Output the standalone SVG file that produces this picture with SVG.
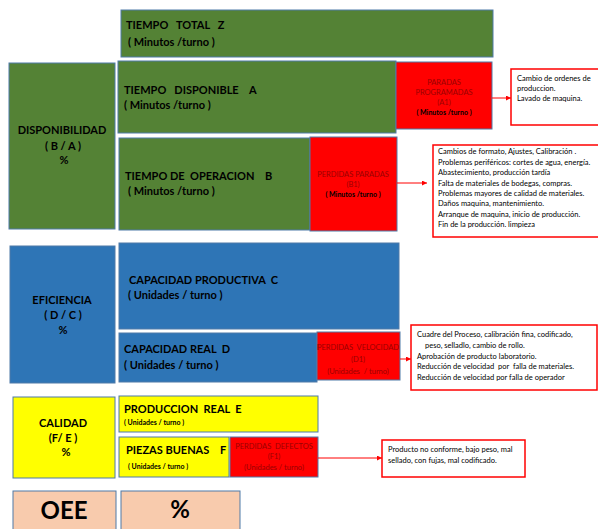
<svg xmlns="http://www.w3.org/2000/svg" width="598" height="529" viewBox="0 0 598 529">
  <defs>
    <marker id="arrow" viewBox="0 0 6 6" refX="6" refY="3" markerWidth="5" markerHeight="5" orient="auto" markerUnits="userSpaceOnUse">
      <path d="M0,0 L6,3 L0,6 z" fill="#FF0000"/>
    </marker>
    <style>
      text { font-family: Lato, "Open Sans", "Liberation Sans", sans-serif; fill: #000; }
      .g { fill: #548235; stroke: #4F7AA8; stroke-width: 1; }
      .b { fill: #2E75B6; stroke: #4F7AA8; stroke-width: 1; }
      .y { fill: #FFFF00; stroke: #4F7AA8; stroke-width: 1; }
      .r { fill: #FF0000; stroke: #4F7AA8; stroke-width: 1; }
      .p { fill: #F8CBAD; stroke: #4F7AA8; stroke-width: 1; }
      .note { fill: #FFFFFF; stroke: #FF0000; stroke-width: 1.5; }
      .big { font-size: 11px; font-weight: bold; }
      .lossr { font-size: 7.5px; fill: #9A0000; }
      .lossb { font-size: 7px; font-weight: bold; }
      .list { font-size: 7.5px; }
      .huge { font-size: 24px; font-weight: bold; }
      .c { text-anchor: middle; }
      .conn { stroke: #FF0000; stroke-width: 1; fill: none; marker-end: url(#arrow); }
    </style>
  </defs>

  <!-- Time rows -->
  <g id="tiempo-total">
    <rect class="g" x="121" y="10" width="372" height="47"/>
    <text class="big" x="126" y="29" xml:space="preserve">TIEMPO   TOTAL   Z</text>
    <text class="big" x="128" y="46">( Minutos /turno )</text>
  </g>

  <g id="disponibilidad">
    <rect class="g" x="9" y="63" width="106" height="166"/>
    <text class="big c" x="62" y="134">DISPONIBILIDAD</text>
    <text class="big c" x="63" y="150">( B / A )</text>
    <text class="big c" x="64" y="164">%</text>
  </g>

  <g id="tiempo-disponible">
    <rect class="g" x="118" y="61" width="278" height="72"/>
    <text class="big" x="124" y="94" xml:space="preserve">TIEMPO   DISPONIBLE    A</text>
    <text class="big" x="124" y="109">( Minutos /turno )</text>
  </g>

  <g id="paradas-programadas">
    <rect class="r" x="396" y="62" width="96" height="67"/>
    <text class="lossr c" x="444" y="85">PARADAS</text>
    <text class="lossr c" x="444" y="95">PROGRAMADAS</text>
    <text class="lossr c" x="444" y="105">(A1)</text>
    <text class="lossb c" x="444" y="115">( Minutos /turno )</text>
  </g>

  <g id="nota-a1">
    <rect class="note" x="511" y="69" width="90" height="56"/>
    <text class="list" x="517" y="81">Cambio de ordenes de</text>
    <text class="list" x="517" y="91">produccion.</text>
    <text class="list" x="517" y="101">Lavado de maquina.</text>
  </g>

  <g id="tiempo-operacion">
    <rect class="g" x="119" y="138" width="191" height="92"/>
    <text class="big" x="125" y="180" xml:space="preserve">TIEMPO DE  OPERACION    B</text>
    <text class="big" x="128" y="195">( Minutos /turno )</text>
  </g>

  <g id="perdidas-paradas">
    <rect class="r" x="310" y="137" width="87" height="94"/>
    <text class="lossr c" x="353" y="177">PERDIDAS PARADAS</text>
    <text class="lossr c" x="353" y="187">(B1)</text>
    <text class="lossb c" x="353" y="197">( Minutos /turno )</text>
  </g>

  <g id="nota-b1">
    <rect class="note" x="433" y="145" width="170" height="92"/>
    <text class="list" x="438" y="154">Cambios de formato, Ajustes, Calibración .</text>
    <text class="list" x="438" y="164.5">Problemas periféricos: cortes de agua, energía.</text>
    <text class="list" x="438" y="175">Abastecimiento, producción tardía</text>
    <text class="list" x="438" y="185.5">Falta de materiales de bodegas, compras.</text>
    <text class="list" x="438" y="196">Problemas mayores de calidad de materiales.</text>
    <text class="list" x="438" y="206">Daños maquina, mantenimiento.</text>
    <text class="list" x="438" y="216.5">Arranque de maquina, inicio de producción.</text>
    <text class="list" x="438" y="226.5">Fin de la producción. limpieza</text>
  </g>

  <!-- Capacity rows -->
  <g id="eficiencia">
    <rect class="b" x="10" y="246" width="105" height="137"/>
    <text class="big c" x="62" y="304">EFICIENCIA</text>
    <text class="big c" x="63" y="319">( D / C )</text>
    <text class="big c" x="63" y="334">%</text>
  </g>

  <g id="capacidad-productiva">
    <rect class="b" x="119" y="243" width="280" height="86"/>
    <text class="big" x="129" y="284" xml:space="preserve">CAPACIDAD PRODUCTIVA  C</text>
    <text class="big" x="128" y="299">( Unidades / turno )</text>
  </g>

  <g id="capacidad-real">
    <rect class="b" x="119" y="333" width="198" height="49"/>
    <text class="big" x="124" y="353" xml:space="preserve">CAPACIDAD REAL  D</text>
    <text class="big" x="124" y="369">( Unidades / turno )</text>
  </g>

  <g id="perdidas-velocidad">
    <rect class="r" x="317" y="332" width="83" height="48"/>
    <text class="lossr c" x="358" y="350" xml:space="preserve">PERDIDAS  VELOCIDAD</text>
    <text class="lossr c" x="358" y="362">(D1)</text>
    <text class="lossr c" x="358" y="374" xml:space="preserve">(Unidades  / turno)</text>
  </g>

  <g id="nota-d1">
    <rect class="note" x="411" y="325" width="186" height="65"/>
    <text class="list" x="417" y="337">Cuadre del Proceso, calibración fina, codificado,</text>
    <text class="list" x="425" y="348">peso, selladlo, cambio de rollo.</text>
    <text class="list" x="417" y="358.5">Aprobación de producto laboratorio.</text>
    <text class="list" x="417" y="369" xml:space="preserve">Reducción de velocidad  por  falla de materiales.</text>
    <text class="list" x="417" y="379.5">Reducción de velocidad por falla de operador</text>
  </g>

  <!-- Quality rows -->
  <g id="calidad">
    <rect class="y" x="13" y="397" width="102" height="81"/>
    <text class="big c" x="63" y="427">CALIDAD</text>
    <text class="big c" x="63" y="442">(F/ E )</text>
    <text class="big c" x="66" y="456">%</text>
  </g>

  <g id="produccion-real">
    <rect class="y" x="119" y="396" width="199" height="36"/>
    <text class="big" x="124" y="413" xml:space="preserve">PRODUCCION  REAL  E</text>
    <text class="lossb" x="124" y="425">( Unidades / turno )</text>
  </g>

  <g id="piezas-buenas">
    <rect class="y" x="119" y="437" width="110" height="40"/>
    <text class="big" x="126" y="454" xml:space="preserve">PIEZAS BUENAS    F</text>
    <text class="lossb" x="128" y="469">( Unidades / turno )</text>
  </g>

  <g id="perdidas-defectos">
    <rect class="r" x="230" y="437" width="88" height="40"/>
    <text class="lossr c" x="274" y="449" xml:space="preserve">PERDIDAS  DEFECTOS</text>
    <text class="lossr c" x="274" y="459">(F1)</text>
    <text class="lossr c" x="274" y="470">(Unidades / turno)</text>
  </g>

  <g id="nota-f1">
    <rect class="note" x="382" y="440" width="143" height="37"/>
    <text class="list" x="388" y="452">Producto no conforme, bajo peso, mal</text>
    <text class="list" x="388" y="462.5">sellado, con fujas, mal codificado.</text>
  </g>

  <!-- Result row -->
  <g id="oee">
    <rect class="p" x="13" y="491" width="103" height="45"/>
    <text class="huge c" x="64" y="519">OEE</text>
  </g>

  <g id="oee-valor">
    <rect class="p" x="121" y="491" width="119" height="45"/>
    <text class="huge c" x="180" y="518">%</text>
  </g>

  <!-- Connectors from loss boxes to their cause notes -->
  <g id="connectors">
    <line class="conn" x1="492" y1="98" x2="511" y2="98"/>
    <line class="conn" x1="397" y1="183" x2="427" y2="183"/>
    <line class="conn" x1="400" y1="359" x2="411" y2="359"/>
    <line class="conn" x1="318" y1="458" x2="382" y2="458"/>
  </g>
</svg>
